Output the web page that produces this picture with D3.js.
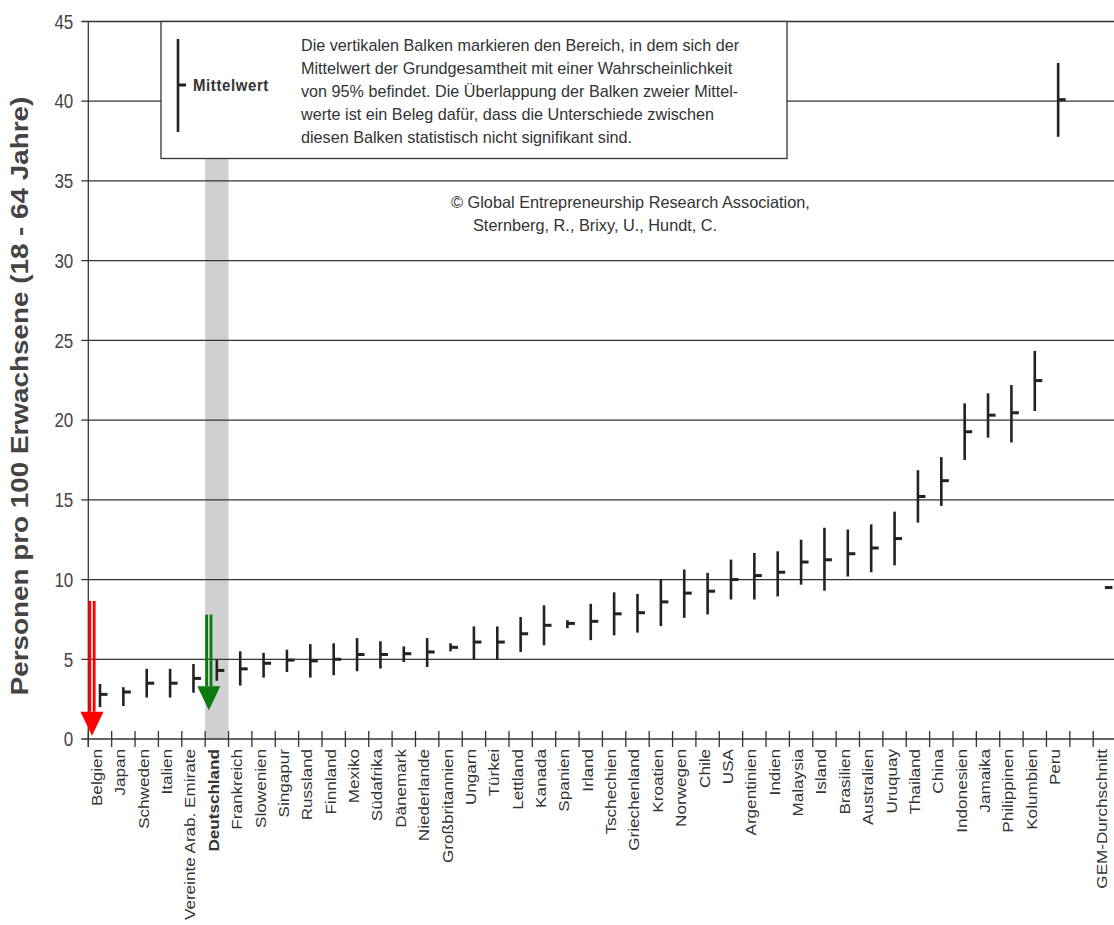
<!DOCTYPE html>
<html>
<head>
<meta charset="utf-8">
<script src="https://cdnjs.cloudflare.com/ajax/libs/d3/7.8.5/d3.min.js"></script>
<style>
  body { margin: 0; background: #fff; }
  svg { display: block; font-family: 'Liberation Sans', Arial, sans-serif; }
</style>
</head>
<body>
<div id="chart"></div>
<script>
// 95%-Konfidenzintervalle und Mittelwerte
const countries = ['Belgien', 'Japan', 'Schweden', 'Italien', 'Vereinte Arab. Emirate', 'Deutschland',
  'Frankreich', 'Slowenien', 'Singapur', 'Russland', 'Finnland', 'Mexiko', 'Südafrika', 'Dänemark',
  'Niederlande', 'Großbritannien', 'Ungarn', 'Türkei', 'Lettland', 'Kanada', 'Spanien', 'Irland',
  'Tschechien', 'Griechenland', 'Kroatien', 'Norwegen', 'Chile', 'USA', 'Argentinien', 'Indien',
  'Malaysia', 'Island', 'Brasilien', 'Australien', 'Uruquay', 'Thailand', 'China', 'Indonesien',
  'Jamaika', 'Philippinen', 'Kolumbien', 'Peru', '', 'GEM-Durchschnitt'];
const means = [2.8, 2.95, 3.5, 3.5, 3.8, 4.3, 4.4, 4.75, 4.95, 4.9, 5.0, 5.3, 5.3, 5.35, 5.46, 5.75,
  6.08, 6.08, 6.6, 7.13, 7.25, 7.38, 7.85, 7.92, 8.6, 9.15, 9.27, 10.0, 10.25, 10.46, 11.1, 11.24,
  11.62, 11.98, 12.57, 15.21, 16.2, 19.27, 20.31, 20.46, 22.48, 40.1, null, 9.5];
const lower = [2.0, 2.07, 2.6, 2.6, 2.9, 3.65, 3.35, 3.85, 4.2, 3.85, 4.0, 4.25, 4.42, 4.83, 4.52, 5.5,
  5.0, 5.0, 5.46, 5.88, 6.95, 6.2, 6.5, 6.67, 7.08, 7.6, 7.81, 8.75, 8.75, 8.94, 9.68, 9.3,
  10.19, 10.46, 10.89, 13.57, 14.62, 17.5, 18.9, 18.6, 20.57, 37.77, null, 9.5];
const upper = [3.45, 3.25, 4.4, 4.4, 4.7, 4.95, 5.5, 5.4, 5.6, 5.95, 6.0, 6.33, 6.13, 5.81, 6.33, 6.0,
  7.06, 7.06, 7.65, 8.38, 7.45, 8.48, 9.2, 9.1, 10.0, 10.63, 10.42, 11.25, 11.67, 11.77, 12.5, 13.25,
  13.14, 13.46, 14.26, 16.86, 17.68, 21.05, 21.68, 22.2, 24.34, 42.4, null, 9.5];
const yTicks = [0, 5, 10, 15, 20, 25, 30, 35, 40, 45];
const highlight = 'Deutschland';
const legendLines = [
  'Die vertikalen Balken markieren den Bereich, in dem sich der',
  'Mittelwert der Grundgesamtheit mit einer Wahrscheinlichkeit',
  'von 95% befindet. Die Überlappung der Balken zweier Mittel-',
  'werte ist ein Beleg dafür, dass die Unterschiede zwischen',
  'diesen Balken statistisch nicht signifikant sind.'];
const creditLines = ['© Global Entrepreneurship Research Association,', 'Sternberg, R., Brixy, U., Hundt, C.'];
// Pfeile: [Land, oberer Wert, Spitze, Farbe]
const arrows = [['Belgien', 8.66, 0.2, '#ff0000'], ['Deutschland', 7.8, 1.8, '#0a7a0a']];

const margin = { top: 21.5, right: 0, bottom: 186, left: 88.3 },
      width = 1114 - margin.left - margin.right,
      height = 925 - margin.top - margin.bottom;
const sy = 1.18; // Achsenschrift ist im Original senkrecht gestreckt
const ink = '#333';

const svg = d3.select('#chart').append('svg')
    .attr('width', 1114)
    .attr('height', 925);

const g = svg.append('g')
    .attr('transform', 'translate(' + margin.left + ',' + margin.top + ')');

const x = d3.scaleBand().domain(countries).range([0, 44 * 23.37]).padding(0);
const y = d3.scaleLinear().domain([0, 45]).range([height, 0]);
const cx = d => x(d) + x.bandwidth() / 2;

// Hervorhebung Deutschland
g.append('rect')
    .attr('x', x(highlight))
    .attr('y', 0)
    .attr('width', x.bandwidth())
    .attr('height', height)
    .attr('fill', '#d0d0d2');

// Gitterlinien
g.append('g').selectAll('line')
    .data(yTicks)
  .enter().append('line')
    .attr('x1', -7)
    .attr('x2', width)
    .attr('y1', d => y(d))
    .attr('y2', d => y(d))
    .attr('stroke', ink)
    .attr('stroke-width', 1.3);

g.append('line')
    .attr('x1', 0).attr('x2', 0)
    .attr('y1', 0).attr('y2', height + 8)
    .attr('stroke', ink).attr('stroke-width', 1.3);

// x-Ticks an den Bandgrenzen
g.append('g').selectAll('line')
    .data(countries)
  .enter().append('line')
    .attr('x1', d => x(d)).attr('x2', d => x(d))
    .attr('y1', height - 8).attr('y2', height + 8)
    .attr('stroke', ink).attr('stroke-width', 1.3);

// y-Beschriftung
g.append('g').selectAll('text')
    .data(yTicks)
  .enter().append('text')
    .attr('transform', d => 'translate(-15,' + y(d) + ') scale(1,' + sy + ')')
    .attr('dy', '0.36em')
    .attr('text-anchor', 'end')
    .style('font-size', '17px')
    .style('fill', '#444')
    .text(d => d);

// x-Beschriftung
g.append('g').selectAll('text')
    .data(countries)
  .enter().append('text')
    .attr('transform', d => 'translate(' + (cx(d) + 2) + ',' + (height + 10) + ') rotate(-90) scale(' + sy + ',1)')
    .attr('text-anchor', 'end')
    .style('font-size', '14.5px')
    .style('font-weight', d => d === highlight ? 'bold' : 'normal')
    .style('fill', ink)
    .text(d => d);

// Konfidenzbalken
const idx = d3.range(countries.length).filter(i => means[i] !== null);

g.append('g').selectAll('line')
    .data(idx.filter(i => upper[i] > lower[i]))
  .enter().append('line')
    .attr('x1', i => cx(countries[i])).attr('x2', i => cx(countries[i]))
    .attr('y1', i => y(lower[i])).attr('y2', i => y(upper[i]))
    .attr('stroke', '#222').attr('stroke-width', 2.6);

g.append('g').selectAll('rect')
    .data(idx)
  .enter().append('rect')
    .attr('x', i => cx(countries[i]))
    .attr('y', i => y(means[i]) - 1.5)
    .attr('width', 7.5)
    .attr('height', 3)
    .attr('fill', '#222');

// Pfeile
arrows.forEach(([c, top, tip, col]) => {
  const ax = cx(c) - 8, headTop = y(tip) - 24;
  [-2.2, 2.2].forEach(o => {
    g.append('line')
      .attr('x1', ax + o).attr('x2', ax + o)
      .attr('y1', y(top)).attr('y2', headTop)
      .attr('stroke', col).attr('stroke-width', 2.8);
  });
  g.append('path')
      .attr('d', 'M' + (ax - 11.5) + ',' + headTop + 'L' + (ax + 11.5) + ',' + headTop + 'L' + ax + ',' + y(tip) + 'Z')
      .attr('fill', col);
});

// Legendenkasten
svg.append('rect')
    .attr('x', 161).attr('y', 21.5)
    .attr('width', 626).attr('height', 137)
    .attr('fill', '#fff').attr('stroke', ink).attr('stroke-width', 1.3);

svg.append('line')
    .attr('x1', 178).attr('x2', 178).attr('y1', 39).attr('y2', 132)
    .attr('stroke', '#222').attr('stroke-width', 2.6);
svg.append('rect')
    .attr('x', 178).attr('y', 83.5).attr('width', 8).attr('height', 3)
    .attr('fill', '#222');
svg.append('text')
    .attr('transform', 'translate(193,85) scale(1,1.1)')
    .attr('dy', '0.36em')
    .style('font-size', '15px')
    .style('font-weight', 'bold')
    .style('letter-spacing', '0.6px')
    .style('fill', ink)
    .text('Mittelwert');

svg.append('g').selectAll('text')
    .data(legendLines)
  .enter().append('text')
    .attr('transform', (d, i) => 'translate(301,' + (50.5 + i * 23.2) + ') scale(1,1.05)')
    .style('font-size', '16.2px')
    .style('fill', ink)
    .text(d => d);

svg.append('g').selectAll('text')
    .data(creditLines)
  .enter().append('text')
    .attr('transform', (d, i) => 'translate(' + (i ? 473 : 451) + ',' + (208 + i * 22.5) + ') scale(1,1.05)')
    .style('font-size', '16.3px')
    .style('fill', ink)
    .text(d => d);

// Achsentitel
svg.append('text')
    .attr('transform', 'translate(28,396) rotate(-90) scale(' + sy + ',1)')
    .attr('text-anchor', 'middle')
    .style('font-size', '23.6px')
    .style('font-weight', 'bold')
    .style('fill', '#444')
    .text('Personen pro 100 Erwachsene (18 - 64 Jahre)');
</script>
</body>
</html>
